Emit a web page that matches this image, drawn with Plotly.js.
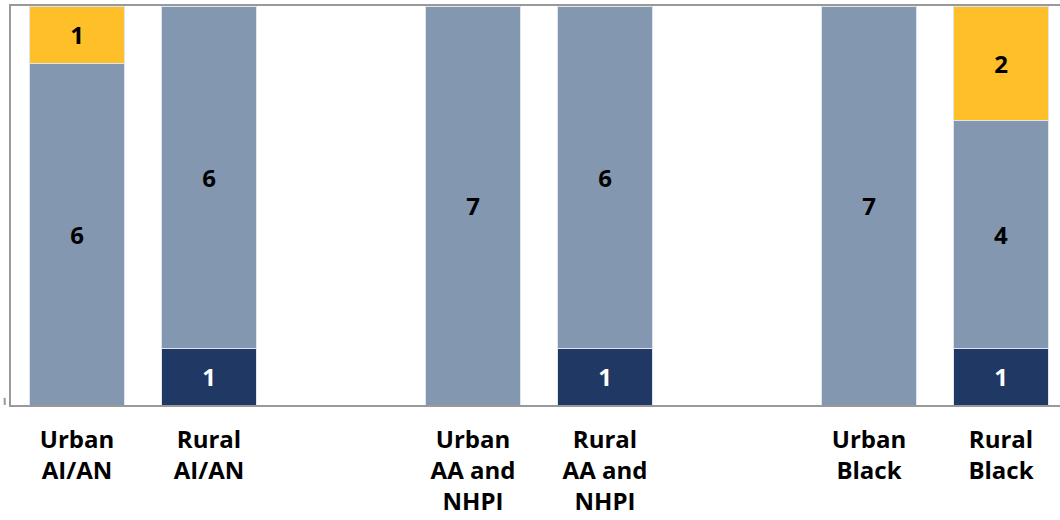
<!DOCTYPE html>
<html>
<head>
<meta charset="utf-8">
<script src="https://cdn.plot.ly/plotly-3.0.1.min.js"></script>
<style>html,body{margin:0;padding:0;background:#fff;}#chart{width:1060px;height:520px;}</style>
</head>
<body>
<div id="chart"></div>
<script>
// Categories (blank slots separate the groups)
var categories = ["Urban<br>AI/AN", "Rural<br>AI/AN", " ", "Urban<br>AA and<br>NHPI", "Rural<br>AA and<br>NHPI", "  ", "Urban<br>Black", "Rural<br>Black"];
var labelledCategories = ["Urban<br>AI/AN", "Rural<br>AI/AN", "Urban<br>AA and<br>NHPI", "Rural<br>AA and<br>NHPI", "Urban<br>Black", "Rural<br>Black"];
// Series values (bottom to top)
var navyValues   = [0, 1, 0, 1, 0, 1];
var grayValues   = [6, 6, 7, 6, 7, 4];
var yellowValues = [1, 0, 0, 0, 0, 2];

function mk(vals, color, textColor) {
  return {
    type: 'bar',
    x: labelledCategories,
    y: vals.map(function(v){ return v === 0 ? null : v; }),
    text: vals.map(function(v){ return v === 0 ? '' : String(v); }),
    textposition: 'inside',
    insidetextanchor: 'middle',
    textangle: 0,
    textfont: {family: 'Open Sans', size: 24, color: textColor, weight: 'bold'},
    marker: {color: color, line: {color: '#dfe5ee', width: 1}},
    hoverinfo: 'skip',
    showlegend: false,
    cliponaxis: false
  };
}

var data = [
  mk(navyValues, '#1f3864', '#ffffff'),
  mk(grayValues, '#8497b0', '#000000'),
  mk(yellowValues, '#ffbf29', '#000000')
];

var layout = {
  width: 1060, height: 520,
  margin: {l: 11, r: 0, t: 6, b: 115},
  barmode: 'stack',
  bargap: 0.28,
  paper_bgcolor: '#ffffff',
  plot_bgcolor: '#ffffff',
  font: {family: 'Open Sans', color: '#000000'},
  xaxis: {
    type: 'category',
    categoryorder: 'array',
    categoryarray: categories,
    tickvals: labelledCategories,
    ticktext: labelledCategories,
    range: [-0.5, 7.447],
    showline: true, linecolor: '#999999', linewidth: 2, mirror: true,
    ticks: '', showgrid: false, zeroline: false,
    tickfont: {family: 'Open Sans', size: 24, color: '#000000', weight: 'bold'},
    ticklabelstandoff: 12
  },
  yaxis: {
    range: [0, 7],
    showline: true, linecolor: '#999999', linewidth: 2,
    showticklabels: false, ticks: '', showgrid: false, zeroline: false
  },
  shapes: [
    {type: 'line', xref: 'paper', yref: 'paper', x0: -0.006, x1: -0.006, y0: 0, y1: 0.018,
     line: {color: '#999999', width: 2}}
  ]
};

Plotly.newPlot('chart', data, layout, {displayModeBar: false, staticPlot: true});
</script>
</body>
</html>
